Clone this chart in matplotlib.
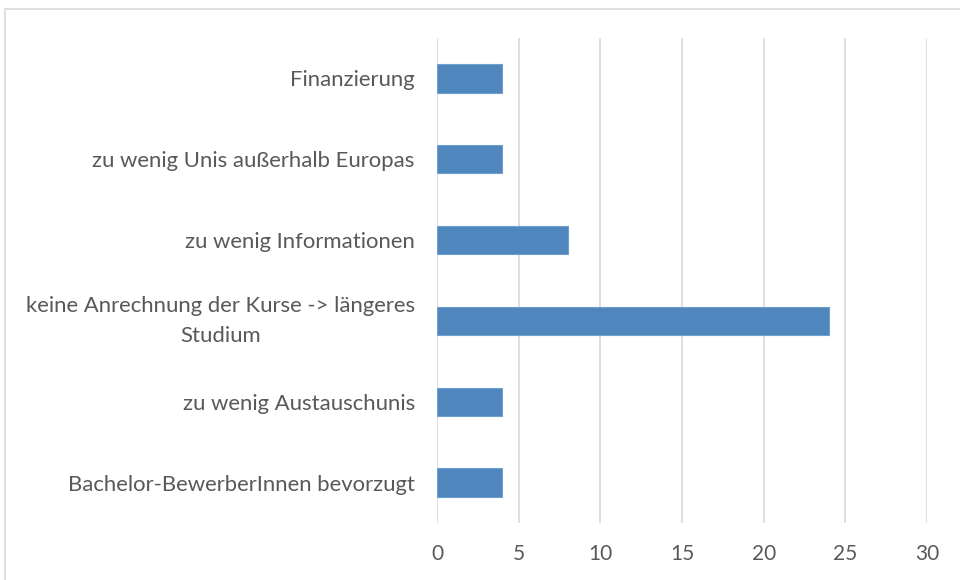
import matplotlib
matplotlib.use("Agg")
import matplotlib.pyplot as plt
from matplotlib.patches import Rectangle

categories = [
    "Bachelor-BewerberInnen bevorzugt",
    "zu wenig Austauschunis",
    "keine Anrechnung der Kurse -> längeres\nStudium",
    "zu wenig Informationen",
    "zu wenig Unis außerhalb Europas",
    "Finanzierung",
]
values = [4, 4, 24, 8, 4, 4]
xticks = [0, 5, 10, 15, 20, 25, 30]

plt.rcParams['font.family'] = ['Lato', 'DejaVu Sans']

fig = plt.figure(figsize=(9.6, 5.8), dpi=100)
# outer chart border (partially cut off right/bottom)
fig.patches.append(Rectangle((5/960, -0.05), 1.1, 1 - 9/580 + 0.05,
                             transform=fig.transFigure, fill=False,
                             edgecolor="#d9d9d9", linewidth=1.2, zorder=0))

ax = fig.add_axes([437/960, 1 - 523/580, (927 - 437)/960, (523 - 38)/580])
y = range(len(categories))
ax.barh(y, values, height=0.35, color="#4f86bd", edgecolor="#6f9fcf", linewidth=0.8, zorder=3)
ax.set_xlim(0, 30)
ax.set_ylim(-0.5, len(categories) - 0.5)
ax.set_xticks(xticks)
ax.set_xticklabels([str(t) for t in xticks])
ax.set_yticks(list(y))
ax.set_yticklabels(categories, ha="right", multialignment="center", linespacing=1.6)
ax.tick_params(axis="y", length=0, pad=16, labelsize=15.9, labelcolor="#595959")
ax.tick_params(axis="x", length=0, pad=15, labelsize=15, labelcolor="#595959")
for lbl in ax.get_yticklabels():
    if "\n" in lbl.get_text():
        lbl.set_va("center")
ax.grid(axis="x", color="#d9d9d9", linewidth=1.2, zorder=0)
for s in ax.spines.values():
    s.set_visible(False)

fig.savefig("out.png", dpi=100)
